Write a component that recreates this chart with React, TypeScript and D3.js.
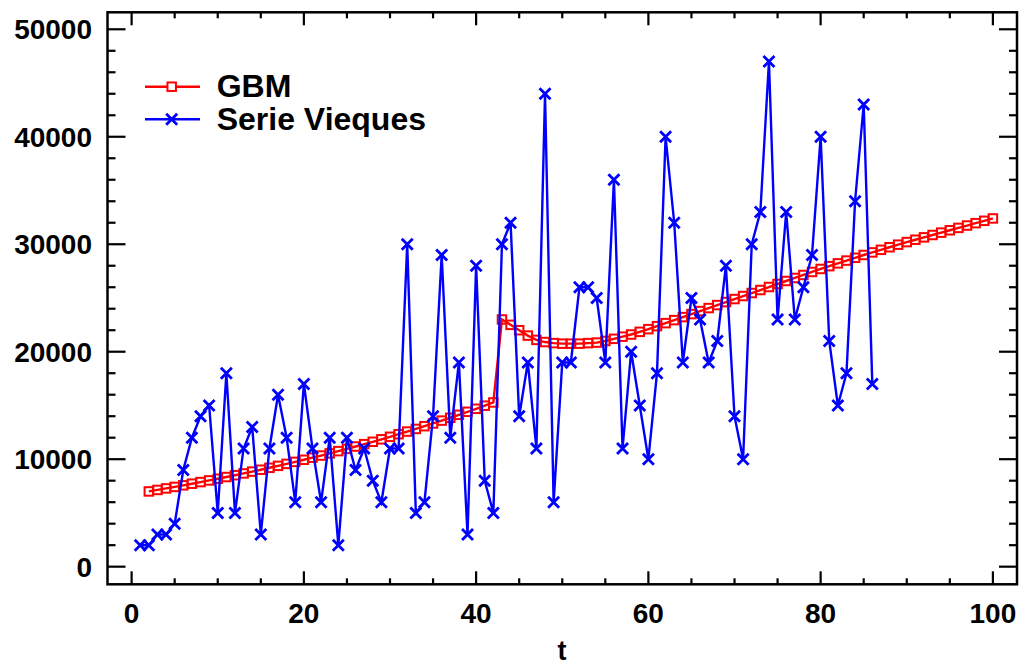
import React from "react";
import * as d3 from "d3";

const W = 1024;
const H = 667;

// Serie Vieques, t = 1..86
const viequesT: number[] = Array.from({ length: 86 }, (_, i) => i + 1);
const viequesValues: number[] = [
  2000, 2000, 3000, 3000, 4000, 9000, 12000, 14000, 15000, 5000,
  18000, 5000, 11000, 13000, 3000, 11000, 16000, 12000, 6000, 17000,
  11000, 6000, 12000, 2000, 12000, 9000, 11000, 8000, 6000, 11000,
  11000, 30000, 5000, 6000, 14000, 29000, 12000, 19000, 3000, 28000,
  8000, 5000, 30000, 32000, 14000, 19000, 11000, 44000, 6000, 19000,
  19000, 26000, 26000, 25000, 19000, 36000, 11000, 20000, 15000, 10000,
  18000, 40000, 32000, 19000, 25000, 23000, 19000, 21000, 28000, 14000,
  10000, 30000, 33000, 47000, 23000, 33000, 23000, 26000, 29000, 40000,
  21000, 15000, 18000, 34000, 43000, 17000,
];

// GBM, t = 2..100
const gbmT: number[] = Array.from({ length: 99 }, (_, i) => i + 2);
const gbmValues: number[] = [
  7000, 7140, 7280, 7420, 7570, 7720, 7870, 8025, 8180, 8340,
  8510, 8675, 8845, 9020, 9200, 9380, 9565, 9750, 9945, 10140,
  10340, 10540, 10750, 10960, 11180, 11400, 11620, 11850, 12085, 12325,
  12570, 12815, 13070, 13325, 13590, 13855, 14130, 14410, 14690, 14980,
  15280,
  23000, 22500, 22000, 21500, 21100, 20900, 20800, 20750, 20750, 20750,
  20800, 20850, 21000, 21200, 21400, 21600, 21850, 22100,
  22380, 22660, 22940, 23220, 23500, 23780, 24060, 24340, 24620, 24900,
  25180, 25460, 25740, 26020, 26300, 26580, 26860, 27140, 27420, 27700,
  27960, 28220, 28480, 28740, 29000, 29240, 29480, 29720, 29960, 30200,
  30420, 30640, 30860, 31080, 31300, 31520, 31740, 31960, 32180, 32400,
];

const xMajorTicks: number[] = [0, 20, 40, 60, 80, 100];
const xMinorTicks: number[] = [5, 10, 15, 25, 30, 35, 45, 50, 55, 65, 70, 75, 85, 90, 95];
const yMajorTicks: number[] = [0, 10000, 20000, 30000, 40000, 50000];
const yMinorTicks: number[] = [
  2000, 4000, 6000, 8000, 12000, 14000, 16000, 18000, 22000, 24000, 26000, 28000,
  32000, 34000, 36000, 38000, 42000, 44000, 46000, 48000,
];

const legendItems = [
  { name: "GBM", color: "#ff0000", marker: "square" },
  { name: "Serie Vieques", color: "#0000ff", marker: "x" },
];

const L = 107.5, R = 1017, T = 12.3, B = 584.3;

export default function App() {
  const x = d3.scaleLinear().domain([-2.8, 102.8]).range([L, R]);
  const y = d3.scaleLinear().domain([-1640, 51580]).range([B, T]);

  const gbmLine = d3
    .line<number>()
    .x((_, i) => x(gbmT[i]))
    .y((d) => y(d))(gbmValues) as string;
  const vLine = d3
    .line<number>()
    .x((_, i) => x(viequesT[i]))
    .y((d) => y(d))(viequesValues) as string;

  const font = "'Liberation Sans', Arial, sans-serif";
  const sq = 8.5;
  const xs = 5.5;

  const xMark = (cx: number, cy: number, key: string | number, color: string, s = xs) => (
    <path
      key={key}
      d={`M${cx - s},${cy - s}L${cx + s},${cy + s}M${cx - s},${cy + s}L${cx + s},${cy - s}`}
      stroke={color}
      strokeWidth={2.8}
      fill="none"
    />
  );

  return (
    <svg
      width={W}
      height={H}
      style={{ position: "absolute", left: 0, top: 0, background: "#fff" }}
    >
      <rect x={0} y={0} width={W} height={H} fill="#fff" />
      <clipPath id="plotclip">
        <rect x={L} y={T} width={R - L} height={B - T} />
      </clipPath>

      <g clipPath="url(#plotclip)">
        {/* GBM */}
        <path d={gbmLine} fill="none" stroke="#ff0000" strokeWidth={2.4} />
        {gbmValues.map((v, i) => (
          <rect
            key={i}
            x={x(gbmT[i]) - sq / 2}
            y={y(v) - sq / 2}
            width={sq}
            height={sq}
            fill="none"
            stroke="#ff0000"
            strokeWidth={2}
          />
        ))}
        {/* Serie Vieques */}
        <path d={vLine} fill="none" stroke="#0000ff" strokeWidth={2.4} />
        {viequesValues.map((v, i) => xMark(x(viequesT[i]), y(v), i, "#0000ff"))}
      </g>

      {/* ticks */}
      <g stroke="#000" strokeWidth={2.2}>
        {xMajorTicks.map((t) => (
          <g key={"xm" + t}>
            <line x1={x(t)} x2={x(t)} y1={B} y2={B - 13} />
            <line x1={x(t)} x2={x(t)} y1={T} y2={T + 13} />
          </g>
        ))}
        {xMinorTicks.map((t) => (
          <g key={"xn" + t}>
            <line x1={x(t)} x2={x(t)} y1={B} y2={B - 6} />
            <line x1={x(t)} x2={x(t)} y1={T} y2={T + 6} />
          </g>
        ))}
        {yMajorTicks.map((v) => (
          <g key={"ym" + v}>
            <line x1={L} x2={L + 18} y1={y(v)} y2={y(v)} />
            <line x1={R} x2={R - 18} y1={y(v)} y2={y(v)} />
          </g>
        ))}
        {yMinorTicks.map((v) => (
          <g key={"yn" + v}>
            <line x1={L} x2={L + 8} y1={y(v)} y2={y(v)} />
            <line x1={R} x2={R - 8} y1={y(v)} y2={y(v)} />
          </g>
        ))}
      </g>

      {/* frame */}
      <rect x={L} y={T} width={R - L} height={B - T} fill="none" stroke="#000" strokeWidth={2.5} />

      {/* tick labels */}
      <g fontFamily={font} fontWeight="bold" fontSize={28} fill="#000">
        {xMajorTicks.map((t) => (
          <text key={"xl" + t} x={x(t)} y={623} textAnchor="middle">
            {t}
          </text>
        ))}
        {yMajorTicks.map((v) => (
          <text key={"yl" + v} x={92} y={y(v)} dy="0.36em" textAnchor="end">
            {v}
          </text>
        ))}
        <text x={562} y={660} fontSize={27} textAnchor="middle">
          t
        </text>
      </g>

      {/* legend */}
      <g fontFamily={font} fontWeight="bold" fontSize={32} fill="#000">
        {legendItems.map((it, i) => {
          const ly = 86.7 + i * 32.6;
          return (
            <g key={it.name}>
              <line x1={145} x2={200} y1={ly} y2={ly} stroke={it.color} strokeWidth={2.4} />
              {it.marker === "square" ? (
                <rect
                  x={171.7 - sq / 2}
                  y={ly - sq / 2}
                  width={sq}
                  height={sq}
                  fill="#fff"
                  stroke={it.color}
                  strokeWidth={2}
                />
              ) : (
                xMark(171.7, ly, "lx", it.color)
              )}
              <text x={216.7} y={ly + 10.5}>
                {it.name}
              </text>
            </g>
          );
        })}
      </g>
    </svg>
  );
}
